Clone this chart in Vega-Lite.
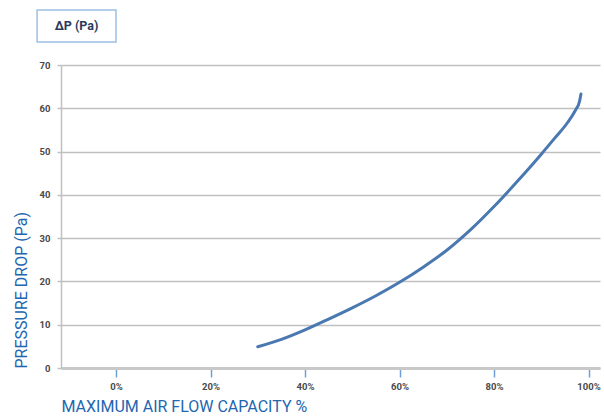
{
  "$schema": "https://vega.github.io/schema/vega-lite/v6.json",
  "autosize": {"type": "none"},
  "width": 539,
  "height": 303,
  "padding": {"left": 61, "top": 65, "right": 4, "bottom": 48},
  "background": "white",
  "config": {"view": {"stroke": null}},
  "datasets": {
    "curve": [
      {"flow": 30, "dp": 4.9},
      {"flow": 35, "dp": 6.6},
      {"flow": 40, "dp": 8.8},
      {"flow": 45, "dp": 11.3},
      {"flow": 50, "dp": 13.9},
      {"flow": 55, "dp": 16.7},
      {"flow": 60, "dp": 19.8},
      {"flow": 65, "dp": 23.3},
      {"flow": 70, "dp": 27.2},
      {"flow": 75, "dp": 31.9},
      {"flow": 80, "dp": 37.3},
      {"flow": 85, "dp": 43.2},
      {"flow": 90, "dp": 49.4},
      {"flow": 93, "dp": 53.3},
      {"flow": 95.5, "dp": 56.6},
      {"flow": 97.2, "dp": 59.5},
      {"flow": 98.1, "dp": 61.6},
      {"flow": 98.4, "dp": 63.3}
    ],
    "label": [
      {"x1": -16.7, "x2": 0, "y1": 75.3, "y2": 82.7, "xm": -8.35, "ym": 79, "text": "ΔP (Pa)"}
    ]
  },
  "layer": [
    {
      "data": {"name": "curve"},
      "mark": {"type": "line", "color": "#4a78b0", "strokeWidth": 3, "strokeCap": "round", "interpolate": "monotone"},
      "encoding": {
        "x": {
          "field": "flow", "type": "quantitative",
          "scale": {"domain": [-11.64, 102.43], "nice": false, "zero": false},
          "axis": {
            "values": [0, 20, 40, 60, 80, 100],
            "labelExpr": "datum.value + '%'",
            "grid": false,
            "domainColor": "#c8c8c8", "domainWidth": 3,
            "tickColor": "#6f9fd3", "tickSize": 9, "tickWidth": 1.5,
            "labelFont": "Roboto", "labelFontWeight": "bold", "labelFontSize": 9.5, "labelColor": "#4a4a4a",
            "labelPadding": 4,
            "title": "MAXIMUM AIR FLOW CAPACITY %",
            "titleFont": "Roboto", "titleFontWeight": "normal", "titleFontSize": 16, "titleColor": "#2266b0",
            "titleAnchor": "start", "titlePadding": 8
          }
        },
        "y": {
          "field": "dp", "type": "quantitative",
          "scale": {"domain": [0, 70], "nice": false},
          "axis": {
            "values": [0, 10, 20, 30, 40, 50, 60, 70],
            "grid": true, "gridColor": "#c0c0c0", "gridWidth": 1.5,
            "domainColor": "#c0c0c0", "domainWidth": 1.5,
            "tickColor": "#c0c0c0", "tickSize": 4, "tickWidth": 1.5,
            "labelFont": "Roboto", "labelFontWeight": "bold", "labelFontSize": 9.5, "labelColor": "#4a4a4a",
            "labelPadding": 7,
            "title": "PRESSURE DROP (Pa)",
            "titleFont": "Roboto", "titleFontWeight": "normal", "titleFontSize": 16, "titleColor": "#2266b0",
            "titleAnchor": "start", "titlePadding": 10
          }
        }
      }
    },
    {
      "data": {"name": "label"},
      "mark": {"type": "rect", "fill": "white", "stroke": "#9cc0e4", "strokeWidth": 1.5, "clip": false},
      "encoding": {
        "x": {"field": "x1", "type": "quantitative"},
        "x2": {"field": "x2"},
        "y": {"field": "y1", "type": "quantitative"},
        "y2": {"field": "y2"}
      }
    },
    {
      "data": {"name": "label"},
      "mark": {"type": "text", "font": "Roboto", "fontWeight": "bold", "fontSize": 12.5, "color": "#2b3a5c", "clip": false},
      "encoding": {
        "x": {"field": "xm", "type": "quantitative"},
        "y": {"field": "ym", "type": "quantitative"},
        "text": {"field": "text"}
      }
    }
  ]
}
